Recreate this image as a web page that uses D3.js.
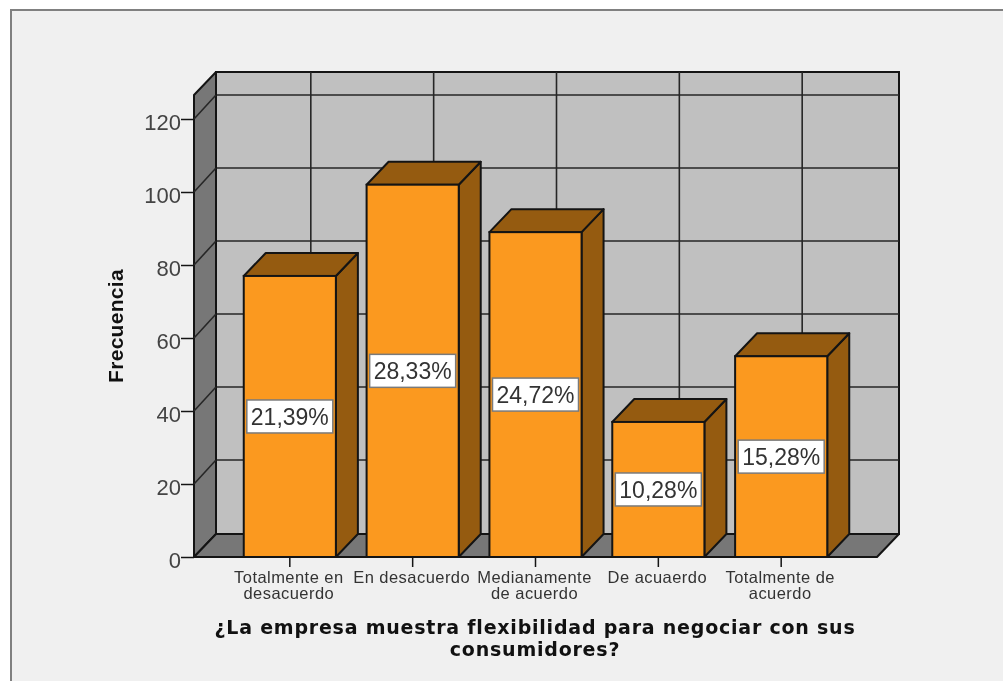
<!DOCTYPE html>
<html><head><meta charset="utf-8">
<script src="https://cdn.jsdelivr.net/npm/d3@7"></script>
<style>html,body{margin:0;padding:0;background:#fff;overflow:hidden}svg{display:block;filter:blur(0.45px)}text{font-family:"Liberation Sans",Arial,sans-serif}</style>
</head><body><svg id="c" width="1003" height="681"></svg>
<script>
const categories=["Totalmente en desacuerdo","En desacuerdo","Medianamente de acuerdo","De acuaerdo","Totalmente de acuerdo"];
const categoryLines=[["Totalmente en","desacuerdo"],["En desacuerdo"],["Medianamente","de acuerdo"],["De acuaerdo"],["Totalmente de","acuerdo"]];
const frequencies=[77,102,89,37,55];
const percentLabels=["21,39%","28,33%","24,72%","10,28%","15,28%"];
const yTicks=[0,20,40,60,80,100,120];
const xTitleLines=["¿La empresa muestra flexibilidad para negociar con sus","consumidores?"];
const yTitle="Frecuencia";

const svg=d3.select("#c");
const left=194,right=877,bottom=557,dx=22,dy=-23,topFront=95;
const y=d3.scaleLinear().domain([0,120]).range([bottom,119]);
const x=d3.scaleBand().domain(categories).range([left,right]).paddingInner(0.25).paddingOuter(0.405);
const ink="#141414",wallLine="#262626";

// page background
svg.append("rect").attr("x",11).attr("y",10).attr("width",1000).attr("height",680)
  .attr("fill","#f0f0f0").attr("stroke","#808080").attr("stroke-width",2);

const line=d3.line();
// back wall
const g=svg.append("g");
g.append("rect").attr("x",left+dx).attr("y",topFront+dy).attr("width",right-left).attr("height",bottom-topFront)
  .attr("fill","#c0c0c0").attr("stroke",ink).attr("stroke-width",2);
// back-wall grid
yTicks.slice(1).forEach(t=>{
  g.append("line").attr("x1",left+dx).attr("x2",right+dx).attr("y1",y(t)+dy-1).attr("y2",y(t)+dy-1)
   .attr("stroke",wallLine).attr("stroke-width",1.6);
});
categories.forEach(c=>{
  const cx=x(c)+x.bandwidth()/2+dx-1;
  g.append("line").attr("x1",cx).attr("x2",cx).attr("y1",topFront+dy).attr("y2",bottom+dy)
   .attr("stroke",wallLine).attr("stroke-width",1.6);
});
// side wall
g.append("path").attr("d",line([[left,bottom],[left,topFront],[left+dx,topFront+dy],[left+dx,bottom+dy]])+"Z")
  .attr("fill","#777777").attr("stroke",ink).attr("stroke-width",2).attr("stroke-linejoin","round");
yTicks.slice(1).forEach(t=>{
  g.append("path").attr("d",line([[left,y(t)],[left+dx,y(t)+dy-1]])).attr("stroke",wallLine).attr("stroke-width",1.6).attr("fill","none");
});
// floor
g.append("path").attr("d",line([[left,bottom],[right,bottom],[right+dx,bottom+dy],[left+dx,bottom+dy]])+"Z")
  .attr("fill","#777777").attr("stroke",ink).attr("stroke-width",2).attr("stroke-linejoin","round");

// bars
const bars=svg.append("g").selectAll("g").data(categories.map((c,i)=>({c,v:frequencies[i],p:percentLabels[i]}))).join("g");
const bw=x.bandwidth();
bars.append("path").attr("d",d=>{const a=x(d.c),t=y(d.v);return line([[a+bw,bottom],[a+bw,t],[a+bw+dx,t+dy],[a+bw+dx,bottom+dy]])+"Z"})
  .attr("fill","#955b10").attr("stroke",ink).attr("stroke-width",2).attr("stroke-linejoin","round");
bars.append("path").attr("d",d=>{const a=x(d.c),t=y(d.v);return line([[a,t],[a+bw,t],[a+bw+dx,t+dy],[a+dx,t+dy]])+"Z"})
  .attr("fill","#955b10").attr("stroke",ink).attr("stroke-width",2).attr("stroke-linejoin","round");
bars.append("rect").attr("x",d=>x(d.c)).attr("y",d=>y(d.v)).attr("width",bw).attr("height",d=>bottom-y(d.v))
  .attr("fill","#fb991f").attr("stroke",ink).attr("stroke-width",2);
// value labels
bars.append("rect").attr("x",d=>x(d.c)+bw/2-43).attr("y",d=>y(d.v/2)-16.5).attr("width",86).attr("height",33)
  .attr("fill","#fff").attr("stroke","#7a7a7a").attr("stroke-width",1.5);
bars.append("text").attr("x",d=>x(d.c)+bw/2).attr("y",d=>y(d.v/2)+8.5).attr("text-anchor","middle")
  .attr("font-size",23).attr("fill","#333").text(d=>d.p);

// axes
const ay=svg.append("g").attr("transform",`translate(${left},0)`)
  .call(d3.axisLeft(y).tickValues(yTicks).tickSize(13).tickPadding(0).tickSizeOuter(0));
ay.select(".domain").remove();
ay.selectAll("line").attr("stroke",ink).attr("stroke-width",1.5);
ay.selectAll("text").attr("font-size",22).attr("fill","#444").attr("font-family","Liberation Sans").attr("dy","0.36em").attr("y",2.5);

const ax=svg.append("g").attr("transform",`translate(0,${bottom})`)
  .call(d3.axisBottom(x).tickSize(10).tickSizeOuter(0).tickFormat(""));
ax.select(".domain").remove();
ax.selectAll("line").attr("stroke",ink).attr("stroke-width",1.5);
ax.selectAll(".tick").each(function(d,i){
  const t=d3.select(this).select("text").attr("y",0).attr("dy",null).attr("font-size",16.5).attr("letter-spacing",0.45).attr("fill","#333").attr("font-family","Liberation Sans").attr("text-anchor","middle");
  t.selectAll("tspan").data(categoryLines[i]).join("tspan").attr("x",-1).attr("y",(l,j)=>26+j*16).text(l=>l);
});

// titles
const xt=svg.append("text").attr("text-anchor","middle").attr("font-weight","bold").attr("fill","#111")
  .style("font-family","'DejaVu Sans',sans-serif").attr("font-size",19).attr("letter-spacing",0.78);
xt.selectAll("tspan").data(xTitleLines).join("tspan").attr("x",535).attr("y",(l,i)=>634+i*22).text(l=>l);
svg.append("text").attr("transform","translate(123,326) rotate(-90)").attr("text-anchor","middle")
  .attr("font-weight","bold").attr("font-size",21).attr("letter-spacing",0.3).attr("fill","#111").text(yTitle);
</script></body></html>
